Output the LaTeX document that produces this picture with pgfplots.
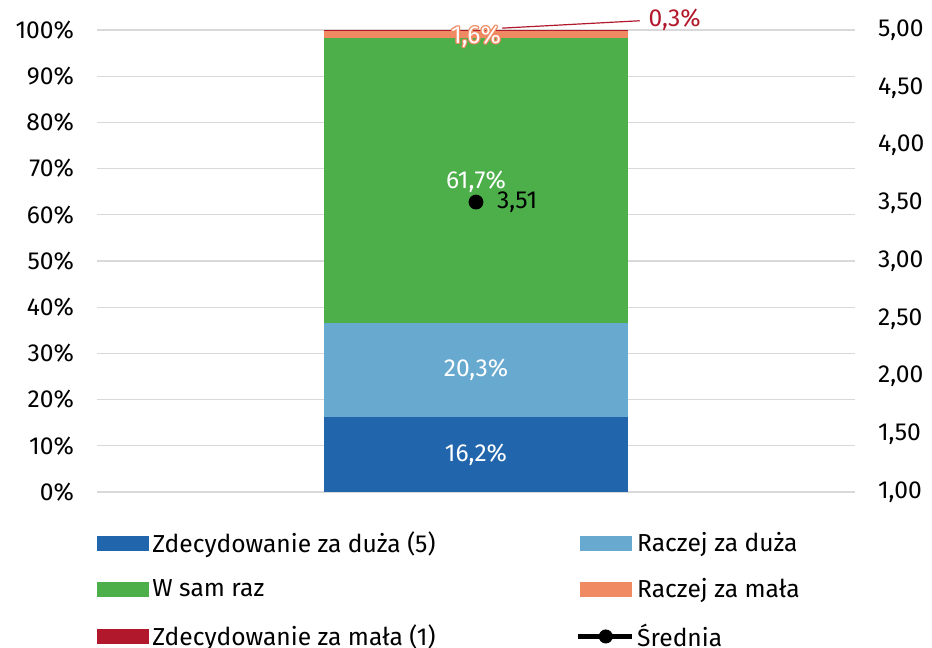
\documentclass[border=0pt]{standalone}
\usepackage{fontspec}
\setmainfont{Fira Sans}
\usepackage{pgfplots}
\pgfplotsset{compat=1.18}
\definecolor{c1}{HTML}{2166AC}
\definecolor{c2}{HTML}{67A9CF}
\definecolor{c3}{HTML}{4DAF4A}
\definecolor{c4}{HTML}{EF8A62}
\definecolor{c5}{HTML}{B2182B}
\definecolor{gridc}{HTML}{D9D9D9}
\begin{document}
\begin{tikzpicture}[font=\fontsize{12.3}{14.5}\selectfont]
\useasboundingbox (0,0) rectangle (466pt,324pt);
\begin{axis}[
  at={(48.5pt,78pt)}, anchor=south west,
  scale only axis, width=379pt, height=231pt,
  xmin=-1.25, xmax=1.25, ymin=0, ymax=100,
  ybar stacked, bar width=1,
  axis x line=none, axis y line*=left, y axis line style={draw=none},
  ymajorgrids, grid style={gridc, line width=0.6pt},
  major tick length=0,
  ytick={0,10,...,100},
  yticklabel={\pgfmathprintnumber{\tick}\%},
  yticklabel style={xshift=-8pt},
  /pgf/number format/assume math mode=true,
  clip=false,
  legend columns=2,
  legend cell align=left,
  legend style={draw=none, fill=none, inner sep=0pt,
    at={(axis description cs:0,0)}, anchor=north west, yshift=-17.5pt,
    row sep=7.6pt,
    nodes={inner xsep=1.5pt}},
]
\addplot[fill=c1, draw=none, legend image code/.code={\fill[c1] (0pt,-3.8pt) rectangle (26pt,3.8pt);}] coordinates {(0,16.2)};
\addlegendentry{\makebox[210pt][l]{Zdecydowanie za duża (5)}}
\addplot[fill=c2, draw=none, legend image code/.code={\fill[c2] (0pt,-3.8pt) rectangle (26pt,3.8pt);}] coordinates {(0,20.3)};
\addlegendentry{Raczej za duża}
\addplot[fill=c3, draw=none, legend image code/.code={\fill[c3] (0pt,-3.8pt) rectangle (26pt,3.8pt);}] coordinates {(0,61.7)};
\addlegendentry{\makebox[210pt][l]{W sam raz}}
\addplot[fill=c4, draw=none, legend image code/.code={\fill[c4] (0pt,-3.8pt) rectangle (26pt,3.8pt);}] coordinates {(0,1.6)};
\addlegendentry{Raczej za mała}
\addplot[fill=c5, draw=none, legend image code/.code={\fill[c5] (0pt,-3.8pt) rectangle (26pt,3.8pt);}] coordinates {(0,0.3)};
\addlegendentry{\makebox[210pt][l]{Zdecydowanie za mała (1)}}
\addlegendimage{legend image code/.code={\draw[black, line width=2.4pt] (-1pt,0pt) -- (26pt,0pt); \fill[black] (13pt,0pt) circle (3.3pt);}}
\addlegendentry{Średnia}
\coordinate (L1) at (axis cs:0,8.1);
\coordinate (L2) at (axis cs:0,26.35);
\coordinate (L3) at (axis cs:0,67.2);
\coordinate (L4) at (axis cs:0,98.5);
\coordinate (A) at (axis cs:0.086,100.4);
\coordinate (B) at (axis cs:0.54,102.0);
\coordinate (L5) at (axis cs:0.568,102.2);
\end{axis}
\begin{axis}[
  at={(48.5pt,78pt)}, anchor=south west,
  scale only axis, width=379pt, height=231pt,
  xmin=-1.25, xmax=1.25, ymin=1, ymax=5,
  axis x line=none, axis y line*=right, y axis line style={draw=none},
  major tick length=0,
  ytick={1,1.5,2,2.5,3,3.5,4,4.5,5},
  yticklabel style={xshift=8pt, /pgf/number format/.cd, fixed, fixed zerofill, precision=2, use comma},
  /pgf/number format/assume math mode=true,
  clip=false,
]
\addplot[only marks, mark=*, mark size=3.5pt, black,
  nodes near coords={\pgfmathprintnumber[fixed, fixed zerofill, precision=2, use comma, assume math mode=true]{\pgfplotspointmeta}},
  point meta=y,
  every node near coord/.append style={anchor=west, xshift=7pt, yshift=0pt, text=black}]
  coordinates {(0,3.51)};
\end{axis}
\node[text=white] at (L1) {16,2\%};
\node[text=white] at (L2) {20,3\%};
\node[text=white] at (L3) {61,7\%};
\node[text=c4, xshift=0.6pt] at (L4) {1,6\%};
\node[text=c4, xshift=-0.6pt] at (L4) {1,6\%};
\node[text=c4, yshift=0.6pt] at (L4) {1,6\%};
\node[text=c4, yshift=-0.6pt] at (L4) {1,6\%};
\node[text=c4, xshift=0.45pt, yshift=0.45pt] at (L4) {1,6\%};
\node[text=c4, xshift=-0.45pt, yshift=0.45pt] at (L4) {1,6\%};
\node[text=c4, xshift=0.45pt, yshift=-0.45pt] at (L4) {1,6\%};
\node[text=c4, xshift=-0.45pt, yshift=-0.45pt] at (L4) {1,6\%};
\node[text=white] at (L4) {1,6\%};
\draw[c5, line width=0.6pt] (A) -- (B);
\node[text=c5, anchor=west, inner sep=0pt] at (L5) {0,3\%};
\end{tikzpicture}
\end{document}
